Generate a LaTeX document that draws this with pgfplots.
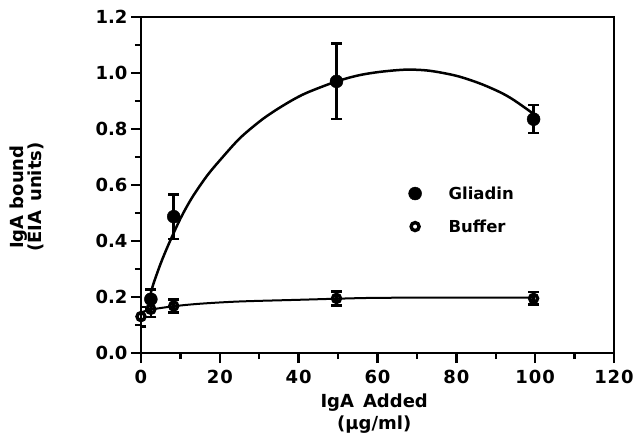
\documentclass[border=0pt]{standalone}
\usepackage{fontspec}
\setmainfont{DejaVu Sans}
\usepackage{pgfplots}
\usepackage{pgfplotstable}
\pgfplotsset{compat=1.18}

\pgfplotstableread{
x y e
2.5 0.192 0.035
8.3 0.487 0.079
49.6 0.970 0.135
99.6 0.835 0.050
}\gliadin
\pgfplotstableread{
x y e
0 0.130 0.035
2.5 0.156 0.028
8.3 0.168 0.023
49.6 0.195 0.025
99.6 0.195 0.022
}\buffer

\begin{document}
\begin{tikzpicture}
\begin{axis}[
    name=ax,
    scale only axis,
    width=473pt, height=336pt,
    xmin=0, xmax=120,
    ymin=0, ymax=1.2,
    xtick={0,20,40,60,80,100,120},
    ytick={0,0.2,0.4,0.6,0.8,1.0,1.2},
    minor x tick num=1,
    minor y tick num=1,
    tick pos=left,
    tick align=outside,
    major tick length=10pt,
    minor tick length=6pt,
    axis line style={line width=2.5pt},
    every tick/.style={line width=2.5pt, black},
    /pgf/number format/assume math mode=true,
    yticklabel style={/pgf/number format/.cd, fixed, fixed zerofill, precision=1, /tikz/.cd},
    ticklabel style={font=\bfseries\fontsize{18}{21}\selectfont},
    xticklabel style={font=\bfseries\fontsize{18}{21}\selectfont\addfontfeature{LetterSpace=5}, yshift=-4pt},
    xlabel={IgA\hspace{0.5em}Added\\(µg/ml)},
    ylabel={IgA bound\\(EIA\hspace{0.5em}units)},
    xlabel style={at={(axis description cs:0.493,-0.180)}, anchor=center, align=center,
        font=\bfseries\fontsize{18}{22}\selectfont},
    ylabel style={at={(axis description cs:-0.241,0.464)}, anchor=center, align=center,
        font=\bfseries\fontsize{18}{18.5}\selectfont},
    legend style={draw=none, fill=none, at={(axis description cs:0.559,0.508)}, anchor=north west,
        font=\bfseries\fontsize{16.5}{20}\selectfont, row sep=15pt,
        /tikz/every odd column/.append style={column sep=25pt}},
    legend cell align=left,
]
% fitted curves
\addplot[line width=2.5pt, smooth, tension=0.5, forget plot] coordinates {
    (2.5,0.215) (3.2,0.249) (5,0.32) (7,0.388) (10,0.48) (13,0.556) (16.7,0.632)
    (20,0.688) (25,0.766) (30,0.826) (33.6,0.862) (38,0.900) (42,0.929) (49.2,0.968)
    (55,0.991) (60.6,1.004) (67.3,1.012) (73.2,1.008) (80,0.99) (85.9,0.963)
    (91,0.932) (94.3,0.906) (98.6,0.864) (100,0.848)
};
\addplot[line width=2pt, smooth, forget plot] coordinates {
    (0,0.145) (2.5,0.155) (8.3,0.167) (15,0.176) (25,0.184) (40,0.190)
    (50,0.194) (60,0.197) (80,0.198) (100,0.198)
};
% data points
\addplot[only marks, mark=*, mark size=6.5pt, forget plot,
    error bars/.cd, y dir=both, y explicit,
    error bar style={line width=2.5pt},
    error mark options={rotate=90, line width=2.5pt, mark size=5.5pt}]
    table[x=x, y=y, y error=e] {\gliadin};
\addplot[only marks, mark=o, mark size=4pt, mark options={line width=3.4pt, fill=white}, forget plot,
    error bars/.cd, y dir=both, y explicit,
    error bar style={line width=2.5pt},
    error mark options={rotate=90, line width=2.5pt, mark size=5.5pt}]
    table[x=x, y=y, y error=e] {\buffer};
% legend
\addlegendimage{only marks, mark=*, mark size=6.5pt}
\addlegendentry{Gliadin}
\addlegendimage{only marks, mark=o, mark size=4pt, mark options={line width=3.4pt, fill=white}}
\addlegendentry{Buffer}
\end{axis}
\pgfresetboundingbox
\path (-141pt,-81pt) rectangle ++(634pt,434pt);
\end{tikzpicture}
\end{document}
